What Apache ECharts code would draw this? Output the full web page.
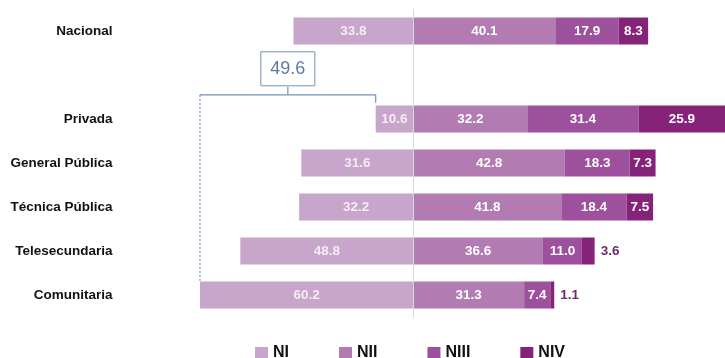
<!DOCTYPE html>
<html>
<head>
<meta charset="utf-8">
<script src="https://cdn.jsdelivr.net/npm/echarts@6/dist/echarts.min.js"></script>
<style>
  html, body { margin: 0; padding: 0; background: #ffffff; }
  #chart { width: 725px; height: 358px; }
</style>
</head>
<body>
<div id="chart"></div>
<script>
// Categories (top to bottom); the blank row leaves room for the gap bracket
const categories = ['Nacional', '', 'Privada', 'General Pública', 'Técnica Pública', 'Telesecundaria', 'Comunitaria'];

// Percentage of students per achievement level
const levelNames = ['NI', 'NII', 'NIII', 'NIV'];
const nI   = [33.8, null, 10.6, 31.6, 32.2, 48.8, 60.2];
const nII  = [40.1, null, 32.2, 42.8, 41.8, 36.6, 31.3];
const nIII = [17.9, null, 31.4, 18.3, 18.4, 11.0, 7.4];
const nIV  = [8.3,  null, 25.9, 7.3,  7.5,  3.6,  1.1];

const colors = ['#c8a5ca', '#b27cb2', '#9d519c', '#852379'];

// Bracket spans the NI bars of Comunitaria and Privada
const bracketFrom = 'Comunitaria';
const bracketTo = 'Privada';

const chart = echarts.init(document.getElementById('chart'), null, { renderer: 'canvas' });

const fontFamily = '"Liberation Sans", Arial, sans-serif';
const BAR_W = 27;

function labelFmt(p) {
  const v = Math.abs(p.value);
  return v ? v.toFixed(1) : '';
}

function levelSeries(name, values, idx) {
  const isNI = idx === 0;
  return {
    name: name,
    type: 'bar',
    stack: 'total',
    barWidth: BAR_W,
    itemStyle: { color: colors[idx] },
    label: {
      show: true,
      position: 'inside',
      formatter: labelFmt,
      color: isNI ? '#f4ecf4' : '#ffffff',
      fontFamily: fontFamily,
      fontWeight: 'bold',
      fontSize: 13.5
    },
    data: values.map(function (v) {
      if (v == null) return null;
      const item = { value: isNI ? -v : v };
      // very thin end segments carry their value just outside the bar
      if (idx === 3 && v < 5) {
        item.label = { position: 'right', distance: 6, color: '#6e2a6c' };
      }
      return item;
    })
  };
}

const iFrom = categories.indexOf(bracketFrom);
const iTo = categories.indexOf(bracketTo);
const gap = nI[iFrom] - nI[iTo];

const bracketColor = '#7592b8';

const series = [
  levelSeries(levelNames[0], nI, 0),
  levelSeries(levelNames[1], nII, 1),
  levelSeries(levelNames[2], nIII, 2),
  levelSeries(levelNames[3], nIV, 3),
  {
    type: 'custom',
    silent: true,
    z: 5,
    encode: { x: [0, 1], y: 2 },
    data: [[-nI[iFrom], -nI[iTo], iTo, iFrom]],
    renderItem: function (params, api) {
      const pL = api.coord([api.value(0), api.value(2)]);
      const pR = api.coord([api.value(1), api.value(2)]);
      const pBottom = api.coord([api.value(0), api.value(3)]);
      const band = api.size([0, 1])[1];
      const yB = pL[1] - band * 0.55;
      const mid = (pL[0] + pR[0]) / 2;
      const st = { stroke: bracketColor, lineWidth: 1.2, fill: null };
      return {
        type: 'group',
        children: [
          { type: 'line', shape: { x1: pL[0], y1: yB, x2: pR[0], y2: yB }, style: st },
          { type: 'line', shape: { x1: pR[0], y1: yB, x2: pR[0], y2: yB + 8 }, style: st },
          { type: 'line', shape: { x1: mid, y1: yB, x2: mid, y2: yB - 8 }, style: st },
          { type: 'line', shape: { x1: pL[0], y1: yB, x2: pL[0], y2: pBottom[1] - BAR_W / 2 },
            style: { stroke: bracketColor, lineWidth: 1.2, lineDash: [2, 2], fill: null } },
          { type: 'rect', shape: { x: mid - 27, y: yB - 43, width: 54, height: 34 },
            style: { stroke: bracketColor, lineWidth: 1, fill: '#ffffff' } },
          { type: 'text', x: mid, y: yB - 26,
            style: { text: gap.toFixed(1), align: 'center', verticalAlign: 'middle',
                     fill: '#5b7ba4', fontSize: 18, fontFamily: fontFamily } }
        ]
      };
    }
  }
];

// zero reference line
series[0].markLine = {
  silent: true,
  symbol: 'none',
  label: { show: false },
  lineStyle: { color: '#d9d9d9', width: 1, type: 'solid' },
  data: [{ xAxis: 0 }]
};

chart.setOption({
  animation: false,
  backgroundColor: '#ffffff',
  grid: { left: 193.6, top: 9, width: 535.7, height: 308, containLabel: false },
  xAxis: {
    type: 'value',
    min: -62,
    max: 88,
    show: false
  },
  yAxis: {
    type: 'category',
    inverse: true,
    data: categories,
    axisLine: { show: false, onZero: false },
    axisTick: { show: false },
    splitLine: { show: false },
    axisLabel: {
      margin: 81,
      color: '#111111',
      fontFamily: fontFamily,
      fontWeight: 'bold',
      fontSize: 13.5
    }
  },
  legend: {
    data: levelNames,
    left: 250,
    top: 340,
    icon: 'rect',
    itemWidth: 13,
    itemHeight: 12,
    itemGap: 50,
    textStyle: { color: '#111111', fontFamily: fontFamily, fontWeight: 'bold', fontSize: 16 },
    selectedMode: false
  },
  color: colors,
  series: series
});
</script>
</body>
</html>
